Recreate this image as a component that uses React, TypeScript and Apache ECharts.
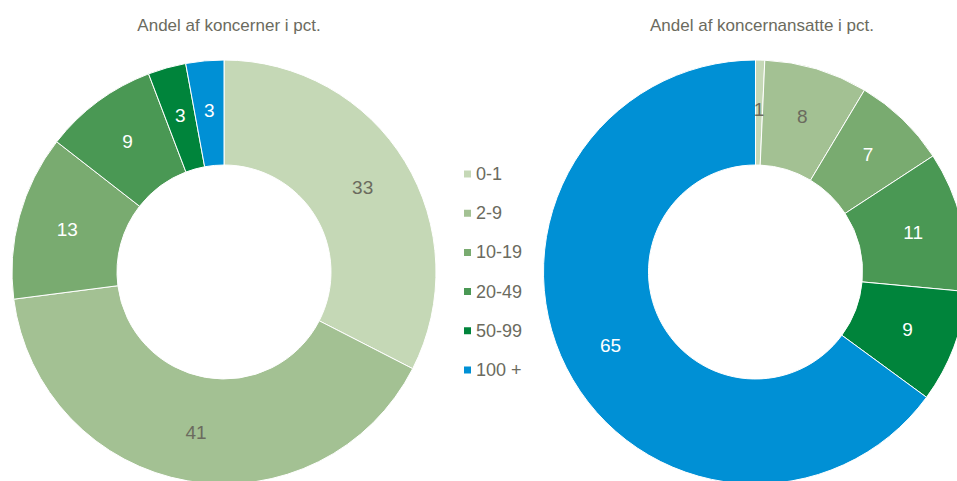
import React, { useEffect, useRef } from "react";
import * as echarts from "echarts";

const categories = ["0-1", "2-9", "10-19", "20-49", "50-99", "100 +"];
const koncernerValues = [32.6, 40.5, 12.6, 8.7, 2.9, 2.9];
const ansatteValues = [0.7, 7.9, 7.2, 10.7, 8.6, 65.0];
const titleLeft = "Andel af koncerner i pct.";
const titleRight = "Andel af koncernansatte i pct.";

const COLORS = ["#c5d8b6", "#a3c193", "#79ab70", "#4a9854", "#00843b", "#0090d5"];
const DARK = "#6b6b5e";
const FONT = "'Liberation Sans Narrow', 'Arial Narrow', 'Liberation Sans', Arial, sans-serif";

function buildData(values: number[], darkIdx: number[]) {
  return values.map((v, i) => ({
    name: categories[i],
    value: v,
    itemStyle: { color: COLORS[i] },
    label: { color: darkIdx.includes(i) ? DARK : "#ffffff" },
  }));
}

export default function App() {
  const ref = useRef<HTMLDivElement>(null);
  useEffect(() => {
    if (!ref.current) return;
    const chart = echarts.init(ref.current, null, { renderer: "svg" });
    const pieBase = {
      type: "pie",
      radius: [107, 212],
      startAngle: 90,
      clockwise: true,
      avoidLabelOverlap: false,
      itemStyle: { borderColor: "#ffffff", borderWidth: 1 },
      label: {
        show: true,
        position: "inside",
        fontFamily: FONT,
        fontSize: 19,
        formatter: (p: any) => String(Math.round(p.value)),
      },
      labelLine: { show: false },
      emphasis: { disabled: true },
    };
    chart.setOption({
      animation: false,
      backgroundColor: "#ffffff",
      title: [
        {
          text: titleLeft,
          left: 224,
          top: 12,
          textAlign: "center",
          textStyle: { fontFamily: FONT, fontSize: 17, fontWeight: "normal", color: DARK },
        },
        {
          text: titleRight,
          left: 757,
          top: 12,
          textAlign: "center",
          textStyle: { fontFamily: FONT, fontSize: 17, fontWeight: "normal", color: DARK },
        },
      ],
      legend: {
        orient: "vertical",
        left: 462,
        top: 165,
        padding: 0,
        itemWidth: 9,
        itemHeight: 9,
        itemGap: 21.2,
        icon: "rect",
        data: categories,
        textStyle: { fontFamily: FONT, fontSize: 18, lineHeight: 17, color: DARK, padding: [0, 0, 0, -1] },
      },
      series: [
        {
          ...pieBase,
          center: [224, 272],
          data: buildData(koncernerValues, [0, 1]),
        },
        {
          ...pieBase,
          center: [755.5, 272],
          data: buildData(ansatteValues, [0, 1]),
        },
      ],
    });
    return () => chart.dispose();
  }, []);
  return <div ref={ref} style={{ width: 957, height: 481, position: "fixed", left: 0, top: 0 }} />;
}
